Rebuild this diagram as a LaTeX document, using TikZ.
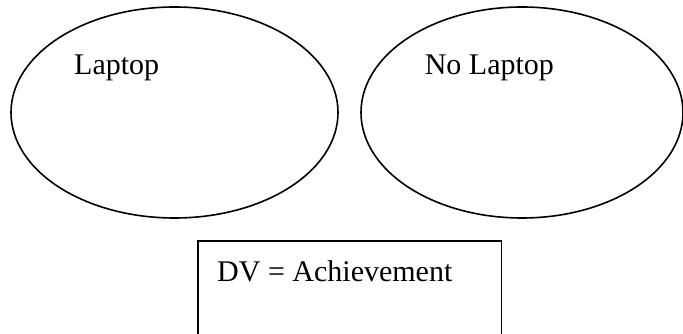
\documentclass[tikz,border=0pt]{standalone}
\usepackage{fontspec}
\setmainfont{Liberation Serif}
\usetikzlibrary{shapes.geometric}
\tikzset{
	group/.style={draw,ellipse,line width=1.6pt,minimum width=327pt,minimum height=211pt,inner sep=0pt},
	dvbox/.style={draw,line width=1.7pt},
	lbl/.style={anchor=base west,inner sep=0pt,font=\fontsize{30}{35}\selectfont}
}
\begin{document}
\begin{tikzpicture}[x=1pt,y=1pt]
					\useasboundingbox (0,0) rectangle (683,334);
					\clip (0,0) rectangle (683,334);
					\node[group] (laptop) at (174.5,221.5) {};
					\node[group,minimum width=322pt] (nolaptop) at (522,221.5) {};
					\draw[dvbox] (198,93.3) rectangle (501.5,-5);
					\path
					(74,259) node[lbl] (lap) {Laptop}
					(424.6,259) node[lbl] (nolap) {No Laptop}
					(217,52.3) node[lbl] (dv) {DV = Achievement}
					;
			\end{tikzpicture}
\end{document}
